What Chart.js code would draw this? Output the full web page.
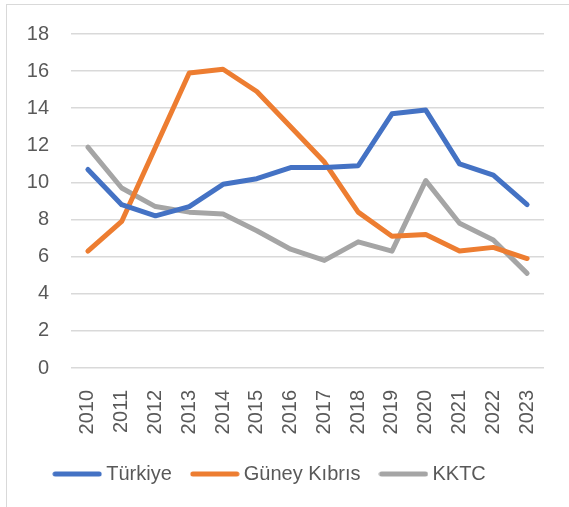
<!DOCTYPE html>
<html>
<head>
<meta charset="utf-8">
<script src="https://cdn.jsdelivr.net/npm/chart.js@4"></script>
<style>
  html, body { margin: 0; padding: 0; background: #fff; overflow: hidden; }
  #wrap { position: relative; width: 569px; height: 507px; }
  #frame { position: absolute; left: 6px; top: 4px; width: 700px; height: 700px;
           border-left: 1px solid #d9d9d9; border-top: 1px solid #d9d9d9; }
  #myChart { position: absolute; left: 0; top: 0; }
</style>
</head>
<body>
<div id="wrap">
  <div id="frame"></div>
  <canvas id="myChart" width="569" height="507"></canvas>
</div>
<script>
const years = ["2010", "2011", "2012", "2013", "2014", "2015", "2016", "2017", "2018", "2019", "2020", "2021", "2022", "2023"];
const turkiye = [10.7, 8.8, 8.2, 8.7, 9.9, 10.2, 10.8, 10.8, 10.9, 13.7, 13.9, 11.0, 10.4, 8.8];
const guneyKibris = [6.3, 7.9, 11.9, 15.9, 16.1, 14.9, 13.0, 11.1, 8.4, 7.1, 7.2, 6.3, 6.5, 5.9];
const kktc = [11.9, 9.7, 8.7, 8.4, 8.3, 7.4, 6.4, 5.8, 6.8, 6.3, 10.1, 7.8, 6.9, 5.1];

const font = { family: "'Liberation Sans', Arial, sans-serif", size: 20 };
const textColor = "#595959";

// legend swatch: a short thick line with round ends
function swatch(color) {
  const c = document.createElement("canvas");
  c.width = 50;
  c.height = 6;
  const g = c.getContext("2d");
  g.strokeStyle = color;
  g.lineWidth = 5;
  g.lineCap = "round";
  g.beginPath();
  g.moveTo(3, 3);
  g.lineTo(47, 3);
  g.stroke();
  return c;
}

function line(label, data, color) {
  return {
    label: label,
    data: data,
    borderColor: color,
    backgroundColor: color,
    borderWidth: 5,
    borderCapStyle: "round",
    borderJoinStyle: "round",
    pointRadius: 0,
    pointHoverRadius: 0,
    pointStyle: swatch(color),
    tension: 0,
    fill: false,
  };
}

const ctx = document.getElementById("myChart");
new Chart(ctx, {
  type: "line",
  data: {
    labels: years,
    datasets: [
      line("Türkiye", turkiye, "#4472C4"),
      line("Güney Kıbrıs", guneyKibris, "#ED7D31"),
      line("KKTC", kktc, "#A5A5A5"),
    ],
  },
  options: {
    responsive: false,
    animation: false,
    layout: { padding: { left: 0, right: 25, top: 22, bottom: 13 } },
    plugins: {
      tooltip: { enabled: false },
      legend: {
        position: "bottom",
        labels: {
          usePointStyle: true,
          pointStyleWidth: 38,
          padding: 24,
          color: textColor,
          font: font,
        },
      },
    },
    scales: {
      x: {
        offset: true,
        grid: { display: false },
        border: { display: false },
        ticks: {
          color: textColor,
          font: font,
          minRotation: 90,
          maxRotation: 90,
          padding: 14,
        },
        afterFit(scale) { scale.height = 72; },
      },
      y: {
        min: 0,
        max: 18,
        grid: { color: "#D9D9D9", lineWidth: 1.5, drawTicks: false },
        border: { display: false },
        ticks: {
          stepSize: 2,
          color: textColor,
          font: font,
          padding: 22,
        },
        afterFit(scale) { scale.width = 71; },
      },
    },
  },
});
</script>
</body>
</html>
